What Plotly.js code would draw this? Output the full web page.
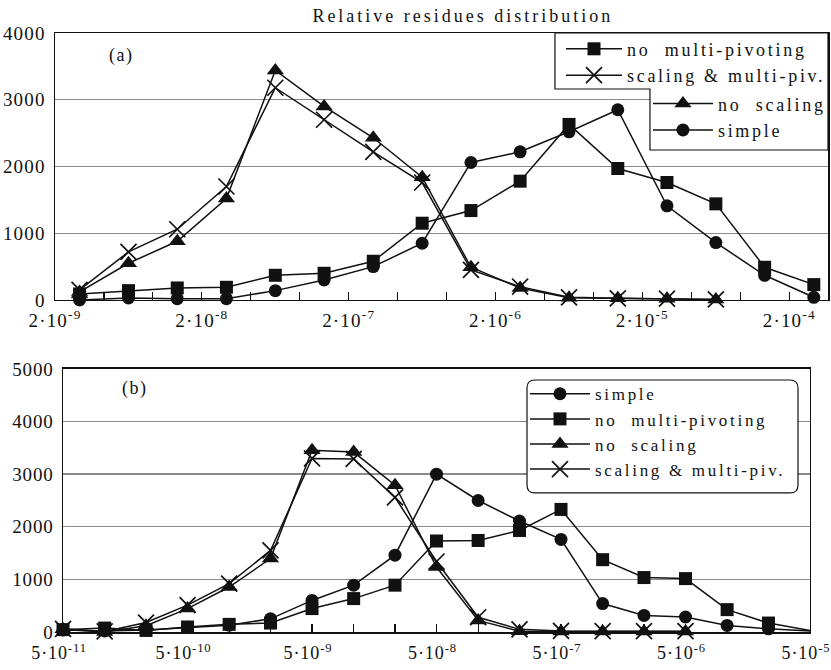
<!DOCTYPE html>
<html>
<head>
<meta charset="utf-8">
<script src="https://cdn.plot.ly/plotly-3.0.1.min.js"></script>
<style>
html,body{margin:0;padding:0;background:#fff;}
#chart{width:831px;height:670px;}
text.gtitle{letter-spacing:3px;}
text.annotation-text{letter-spacing:1.5px;}
.xtick text, .ytick text{letter-spacing:1.2px;}
.x2tick text, .y2tick text{letter-spacing:0.9px;}
.infolayer .traces text{letter-spacing:2.7px;}
.infolayer [clip-path]{clip-path:none !important;}
</style>
</head>
<body>
<div id="chart"></div>
<script>
// ---------- Panel (a) ----------
var binsA = [2.94e-9, 6.33e-9, 1.36e-8, 2.94e-8, 6.33e-8, 1.36e-7, 2.94e-7, 6.33e-7,
             1.36e-6, 2.94e-6, 6.33e-6, 1.36e-5, 2.94e-5, 6.33e-5, 1.36e-4, 2.94e-4];
var aNoMultiPiv = [90, 140, 180, 190, 370, 400, 580, 1150, 1340, 1780, 2630, 1970, 1760, 1440, 490, 230];
var aScalingMulti = [150, 720, 1060, 1700, 3180, 2700, 2220, 1760, 450, 200, 40, 25, 20, 8];
var aNoScaling = [120, 550, 880, 1520, 3440, 2900, 2430, 1840, 490, 180, 35, 25, 20, 8];
var aSimple = [0, 30, 20, 20, 140, 300, 500, 850, 2060, 2220, 2520, 2850, 1410, 860, 370, 40];
var tickValsA = [2e-9, 4.31e-9, 9.28e-9, 2e-8, 4.31e-8, 9.28e-8, 2e-7, 4.31e-7, 9.28e-7,
                 2e-6, 4.31e-6, 9.28e-6, 2e-5, 4.31e-5, 9.28e-5, 2e-4, 4.31e-4];
var tickTextA = ['2·10<sup>-9</sup>', '', '', '2·10<sup>-8</sup>', '', '', '2·10<sup>-7</sup>', '', '',
                 '2·10<sup>-6</sup>', '', '', '2·10<sup>-5</sup>', '', '', '2·10<sup>-4</sup>', ''];

// ---------- Panel (b) ----------
var binsB = [5e-11, 1.08e-10, 2.32e-10, 5e-10, 1.08e-9, 2.32e-9, 5e-9, 1.08e-8, 2.32e-8, 5e-8,
             1.08e-7, 2.32e-7, 5e-7, 1.08e-6, 2.32e-6, 5e-6, 1.08e-5, 2.32e-5, 5e-5];
var bSimple = [40, 20, 40, 90, 130, 250, 600, 890, 1460, 3000, 2500, 2110, 1760, 540, 315, 285, 125, 60, 20];
var bNoMultiPiv = [45, 75, 30, 95, 145, 170, 445, 635, 890, 1730, 1740, 1930, 2330, 1375, 1035, 1015, 425, 170, 30];
var bNoScaling = [50, 0, 120, 445, 855, 1395, 3455, 3420, 2790, 1235, 220, 15, 10, 10, 10, 10];
var bScalingMulti = [60, 10, 180, 510, 920, 1550, 3300, 3290, 2560, 1340, 280, 50, 20, 15, 15, 15];
var tickValsB = [5e-11, 1.08e-10, 2.32e-10, 5e-10, 1.08e-9, 2.32e-9, 5e-9, 1.08e-8, 2.32e-8, 5e-8,
                 1.08e-7, 2.32e-7, 5e-7, 1.08e-6, 2.32e-6, 5e-6, 1.08e-5, 2.32e-5, 5e-5];
var tickTextB = ['5·10<sup>-11</sup>', '', '', '5·10<sup>-10</sup>', '', '', '5·10<sup>-9</sup>', '', '',
                 '5·10<sup>-8</sup>', '', '', '5·10<sup>-7</sup>', '', '', '5·10<sup>-6</sup>', '', '', '5·10<sup>-5</sup>'];

var yTicksA = [0, 1000, 2000, 3000, 4000];
var yTicksB = [0, 1000, 2000, 3000, 4000, 5000];

var FONT = 'Liberation Serif';
var INK = '#111';
var lineStyle = {color: INK, width: 1.5};

function mk(x, y, name, sym, size, xa, ya, leg, rank) {
  var marker = {symbol: sym, size: size, color: INK};
  if (sym === 'x-thin-open') marker.line = {color: INK, width: 1.7};
  return {x: x.slice(0, y.length), y: y, name: name, type: 'scatter', mode: 'lines+markers',
          xaxis: xa, yaxis: ya, legend: leg, legendrank: rank, cliponaxis: false,
          line: lineStyle, marker: marker};
}

var traces = [
  mk(binsA, aNoMultiPiv, 'no  multi-pivoting', 'square', 13, 'x', 'y', 'legend', 1),
  mk(binsA, aScalingMulti, 'scaling & multi-piv.', 'x-thin-open', 16, 'x', 'y', 'legend', 2),
  mk(binsA, aNoScaling, 'no  scaling', 'triangle-up', 15, 'x', 'y', 'legend2', 1),
  mk(binsA, aSimple, 'simple', 'circle', 13, 'x', 'y', 'legend2', 2),
  mk(binsB, bSimple, 'simple', 'circle', 13, 'x2', 'y2', 'legend3', 1),
  mk(binsB, bNoMultiPiv, 'no  multi-pivoting', 'square', 13, 'x2', 'y2', 'legend3', 2),
  mk(binsB, bNoScaling, 'no  scaling', 'triangle-up', 15, 'x2', 'y2', 'legend3', 3),
  mk(binsB, bScalingMulti, 'scaling & multi-piv.', 'x-thin-open', 16, 'x2', 'y2', 'legend3', 4)
];

var axBase = {showline: true, mirror: true, linecolor: INK, linewidth: 1.5, zeroline: false,
              tickfont: {family: FONT, size: 19, color: INK}, fixedrange: true, automargin: false,
              ticklabeloverflow: 'allow'};

function legendBox(x, y, size, iw) {
  return {x: x, y: y, xanchor: 'left', yanchor: 'top', xref: 'paper', yref: 'paper',
          bgcolor: 'rgba(0,0,0,0)', borderwidth: 0,
          font: {family: FONT, size: size, color: INK}, tracegroupgap: 0, itemwidth: iw};
}

// legend frames (paper coordinates)
var rx = 8 / 773, ry = 8 / 599;
var bx0 = 0.6106, bx1 = 0.9612, by0 = 0.2321, by1 = 0.4207;
var roundPath = 'M' + (bx0 + rx) + ',' + by1 + ' L' + (bx1 - rx) + ',' + by1 +
  ' Q' + bx1 + ',' + by1 + ' ' + bx1 + ',' + (by1 - ry) +
  ' L' + bx1 + ',' + (by0 + ry) + ' Q' + bx1 + ',' + by0 + ' ' + (bx1 - rx) + ',' + by0 +
  ' L' + (bx0 + rx) + ',' + by0 + ' Q' + bx0 + ',' + by0 + ' ' + bx0 + ',' + (by0 + ry) +
  ' L' + bx0 + ',' + (by1 - ry) + ' Q' + bx0 + ',' + by1 + ' ' + (bx0 + rx) + ',' + by1 + ' Z';
var stepPath = 'M0.6468,1 L1,1 L1,0.8047 L0.7697,0.8047 L0.7697,0.9065 L0.6468,0.9065 Z';

var layout = {
  width: 831, height: 670,
  paper_bgcolor: '#fff', plot_bgcolor: '#fff',
  margin: {l: 55, r: 3, t: 33, b: 38, autoexpand: false},
  font: {family: FONT, color: INK},
  title: {text: 'Relative residues distribution', x: 0.557, xref: 'container', xanchor: 'center',
          y: 0.977, yref: 'container', yanchor: 'middle', font: {family: FONT, size: 18, color: INK}},
  showlegend: true,
  xaxis: Object.assign({}, axBase, {type: 'log', domain: [0, 1], anchor: 'y', ticklabelstandoff: 3,
          range: [Math.log10(2e-9), -3.435], tickmode: 'array', tickvals: tickValsA, ticktext: tickTextA,
          ticks: 'inside', ticklen: 8, tickcolor: INK, tickwidth: 1.2, showgrid: false}),
  yaxis: Object.assign({}, axBase, {domain: [0.5543, 1], anchor: 'x', range: [0, 4000], ticklabelstandoff: 4,
          tickmode: 'array', tickvals: yTicksA, ticks: '', showgrid: true, gridcolor: '#8a8a8a', gridwidth: 1.4}),
  xaxis2: Object.assign({}, axBase, {type: 'log', domain: [0.0104, 0.9767], anchor: 'y2', ticklabelstandoff: 4,
          ticklabelshift: -4, tickfont: {family: FONT, size: 18, color: INK},
          range: [Math.log10(5e-11), Math.log10(5e-5)], tickmode: 'array', tickvals: tickValsB, ticktext: tickTextB,
          ticks: 'inside', ticklen: 8, tickcolor: INK, tickwidth: 1.2, showgrid: false}),
  yaxis2: Object.assign({}, axBase, {domain: [0, 0.4391], anchor: 'x2', range: [0, 5000], ticklabelstandoff: 4,
          tickmode: 'array', tickvals: yTicksB, ticks: '', showgrid: true, gridcolor: '#8a8a8a', gridwidth: 1.4}),
  legend: legendBox(0.6546, 1.004, 18, 56),
  legend2: legendBox(0.7671, 0.9125, 18, 60),
  legend3: legendBox(0.608, 0.427, 17, 60),
  shapes: [
    {type: 'path', path: stepPath, xref: 'paper', yref: 'paper', layer: 'above',
     fillcolor: '#fff', line: {color: INK, width: 1.2}},
    {type: 'path', path: roundPath, xref: 'paper', yref: 'paper', layer: 'above',
     fillcolor: '#fff', line: {color: INK, width: 1.2}}
  ],
  annotations: [
    {text: '(a)', xref: 'paper', yref: 'paper', x: 0.086, y: 0.963, xanchor: 'center', yanchor: 'middle',
     showarrow: false, font: {family: FONT, size: 18, color: INK}},
    {text: '(b)', xref: 'paper', yref: 'paper', x: 0.1035, y: 0.407, xanchor: 'center', yanchor: 'middle',
     showarrow: false, font: {family: FONT, size: 18, color: INK}}
  ]
};

Plotly.newPlot('chart', traces, layout, {displayModeBar: false, staticPlot: true});
</script>
</body>
</html>
